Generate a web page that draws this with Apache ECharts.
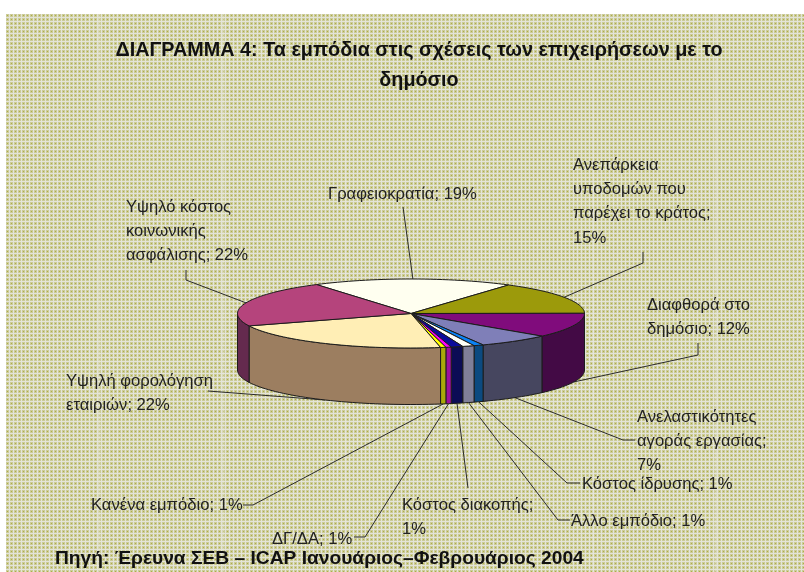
<!DOCTYPE html>
<html><head><meta charset="utf-8">
<style>html,body{margin:0;padding:0;background:#fff}#c{width:804px;height:572px}</style>
<script src="https://cdn.jsdelivr.net/npm/echarts@6/dist/echarts.min.js"></script>
</head><body><div id="c"></div>
<script>
const titleLines = ['ΔΙΑΓΡΑΜΜΑ 4: Τα εμπόδια στις σχέσεις των επιχειρήσεων με το', 'δημόσιο'];
const sourceText = 'Πηγή: Έρευνα ΣΕΒ – ICAP Ιανουάριος–Φεβρουάριος 2004';
const categories = ['Γραφειοκρατία','Ανεπάρκεια υποδομών που παρέχει το κράτος','Διαφθορά στο δημόσιο','Ανελαστικότητες αγοράς εργασίας','Κόστος ίδρυσης','Άλλο εμπόδιο','Κόστος διακοπής','ΔΓ/ΔΑ','Κανένα εμπόδιο','Υψηλή φορολόγηση εταιριών','Υψηλό κόστος κοινωνικής ασφάλισης'];
const values = [18.7,15.4,11.5,6.8,0.9,1.1,1.1,0.5,0.5,21.9,21.7];
const topColors = ['#FFFFF0','#9C9A0B','#800C7C','#7F7FB8','#0A82F5','#FFFFF8','#0B0B9B','#FF00FF','#FFFF00','#FFEEB5','#B5447C'];
const sideColors = ['#807F78','#4E4D06','#430A45','#46465F','#0C4A80','#807F98','#0C0C55','#9F0F9F','#A9A80B','#9C7E60','#642A4E'];

// label layout: text lines, anchor of first line, and leader elbow points (page layout, not data)
const labelLines = [
 ['Γραφειοκρατία;'],['Ανεπάρκεια','υποδομών που','παρέχει το κράτος;'],['Διαφθορά στο','δημόσιο;'],['Ανελαστικότητες','αγοράς εργασίας;'],['Κόστος ίδρυσης;'],['Άλλο εμπόδιο;'],['Κόστος διακοπής;'],['ΔΓ/ΔΑ;'],['Κανένα εμπόδιο;'],['Υψηλή φορολόγηση','εταιριών;'],['Υψηλό κόστος','κοινωνικής','ασφάλισης;']
];
const pctOnOwnLine = [false,true,false,true,false,false,true,false,false,false,false];
const labelAt = [[328,194],[573,165],[647,305],[637,417],[582,484],[571,521],[402,505],[272,539],[91,505],[66,381],[126,207]];
const leaderEnds = [[[403,207]],[[643,263],[643,252]],[[698,355],[698,343]],[[623,440],[635,440]],[[567,483],[580,483]],[[558,520],[570,520]],[[468,488]],[[365,537],[354,537]],[[253,505],[243,505]],[[208,391]],[[186,280],[186,270]]];
const leaderOnSide = [false,false,true,true,true,true,true,true,true,true,false];

const CX=411, CY=313.5, RX=173.5, RY=34.5, DEPTH=56.5;
const startDeg=-33;
const LINE='#1c1c1c', TXT='#222';

function makeBg(){
  const w=804,h=572,c=document.createElement('canvas');c.width=w;c.height=h;
  const g=c.getContext('2d');
  g.fillStyle='#fff';g.fillRect(0,0,w,h);
  g.fillStyle='#E4E4D8';g.fillRect(6,14,w-6,h-14);
  for(let y=14;y<h;y+=4){for(let x=6;x<w;x+=4){
    g.fillStyle='#CBCB98';g.fillRect(x,y,3,3);
    g.fillStyle='#B0AE48';g.fillRect(x+1,y+1,1,1);
  }}
  g.fillStyle='rgba(232,232,226,0.4)';
  for(const x of [98,222,345,468,592,715])g.fillRect(x,14,2,h-14);
  g.fillStyle='rgba(232,232,226,0.2)';
  for(const y of [108,268,428])g.fillRect(6,y,w-6,1);
  return c;
}
const P=(t,d)=>{const r=t*Math.PI/180;return [CX+RX*Math.sin(r),CY-RY*Math.cos(r)+(d||0)];};
const total=values.reduce((a,b)=>a+b,0);
const toDeg=v=>echarts.number.linearMap(v,[0,total],[0,360]);

function renderItem(params,api){
  const i=params.dataIndex;
  let cum=0;for(let k=0;k<i;k++)cum+=values[k];
  const a0=startDeg+toDeg(cum), a1=a0+toDeg(api.value(0));
  const kids=[];
  for(const sh of [0,360]){
    const s=Math.max(a0+sh,90), e=Math.min(a1+sh,270);
    if(e>s){
      const up=[],dn=[];
      const n=Math.max(2,Math.ceil((e-s)/2));
      for(let j=0;j<=n;j++){const t=s+(e-s)*j/n;up.push(P(t));dn.unshift(P(t,DEPTH));}
      kids.push({type:'polygon',shape:{points:up.concat(dn)},style:{fill:sideColors[i],stroke:LINE,lineWidth:1},z2:1});
    }
  }
  const pts=[[CX,CY]];const n=Math.max(2,Math.ceil((a1-a0)/2));
  for(let j=0;j<=n;j++)pts.push(P(a0+(a1-a0)*j/n));
  kids.push({type:'polygon',shape:{points:pts},style:{fill:topColors[i],stroke:LINE,lineWidth:1},z2:2});
  const mid=(a0+a1)/2;
  const start=leaderOnSide[i]?P(mid,DEPTH):P(mid);
  kids.push({type:'polyline',shape:{points:[start].concat(leaderEnds[i])},style:{fill:null,stroke:'#2a2a2a',lineWidth:1},z2:0});
  const pct=Math.round(api.value(0))+'%';
  const lines=labelLines[i].slice();
  if(pctOnOwnLine[i])lines.push(pct);else lines[lines.length-1]+=' '+pct;
  const LH=24.4;
  kids.push({type:'text',x:labelAt[i][0],y:labelAt[i][1]-LH/2,style:{text:lines.join('\n'),fill:TXT,font:'16.6px "Liberation Sans"',lineHeight:LH,align:'left',verticalAlign:'top'},z2:3});
  return {type:'group',children:kids};
}

const chart=echarts.init(document.getElementById('c'),null,{renderer:'canvas'});
chart.setOption({
  animation:false,
  backgroundColor:{image:makeBg(),repeat:'no-repeat'},
  title:[
    {text:titleLines.join('\n'),left:414,top:31,textAlign:'center',textStyle:{fontFamily:'Liberation Sans',fontWeight:'bold',fontSize:19.8,color:'#111',lineHeight:30,align:'center'}},
    {text:sourceText,left:50,top:544,textStyle:{fontFamily:'Liberation Sans',fontWeight:'bold',fontSize:19.2,color:'#111'}}
  ],
  series:[{type:'custom',coordinateSystem:'none',renderItem,clip:false,silent:true,
    data:values.map((v,i)=>({name:categories[i],value:[v]})),encode:{value:0}}]
});
</script></body></html>
